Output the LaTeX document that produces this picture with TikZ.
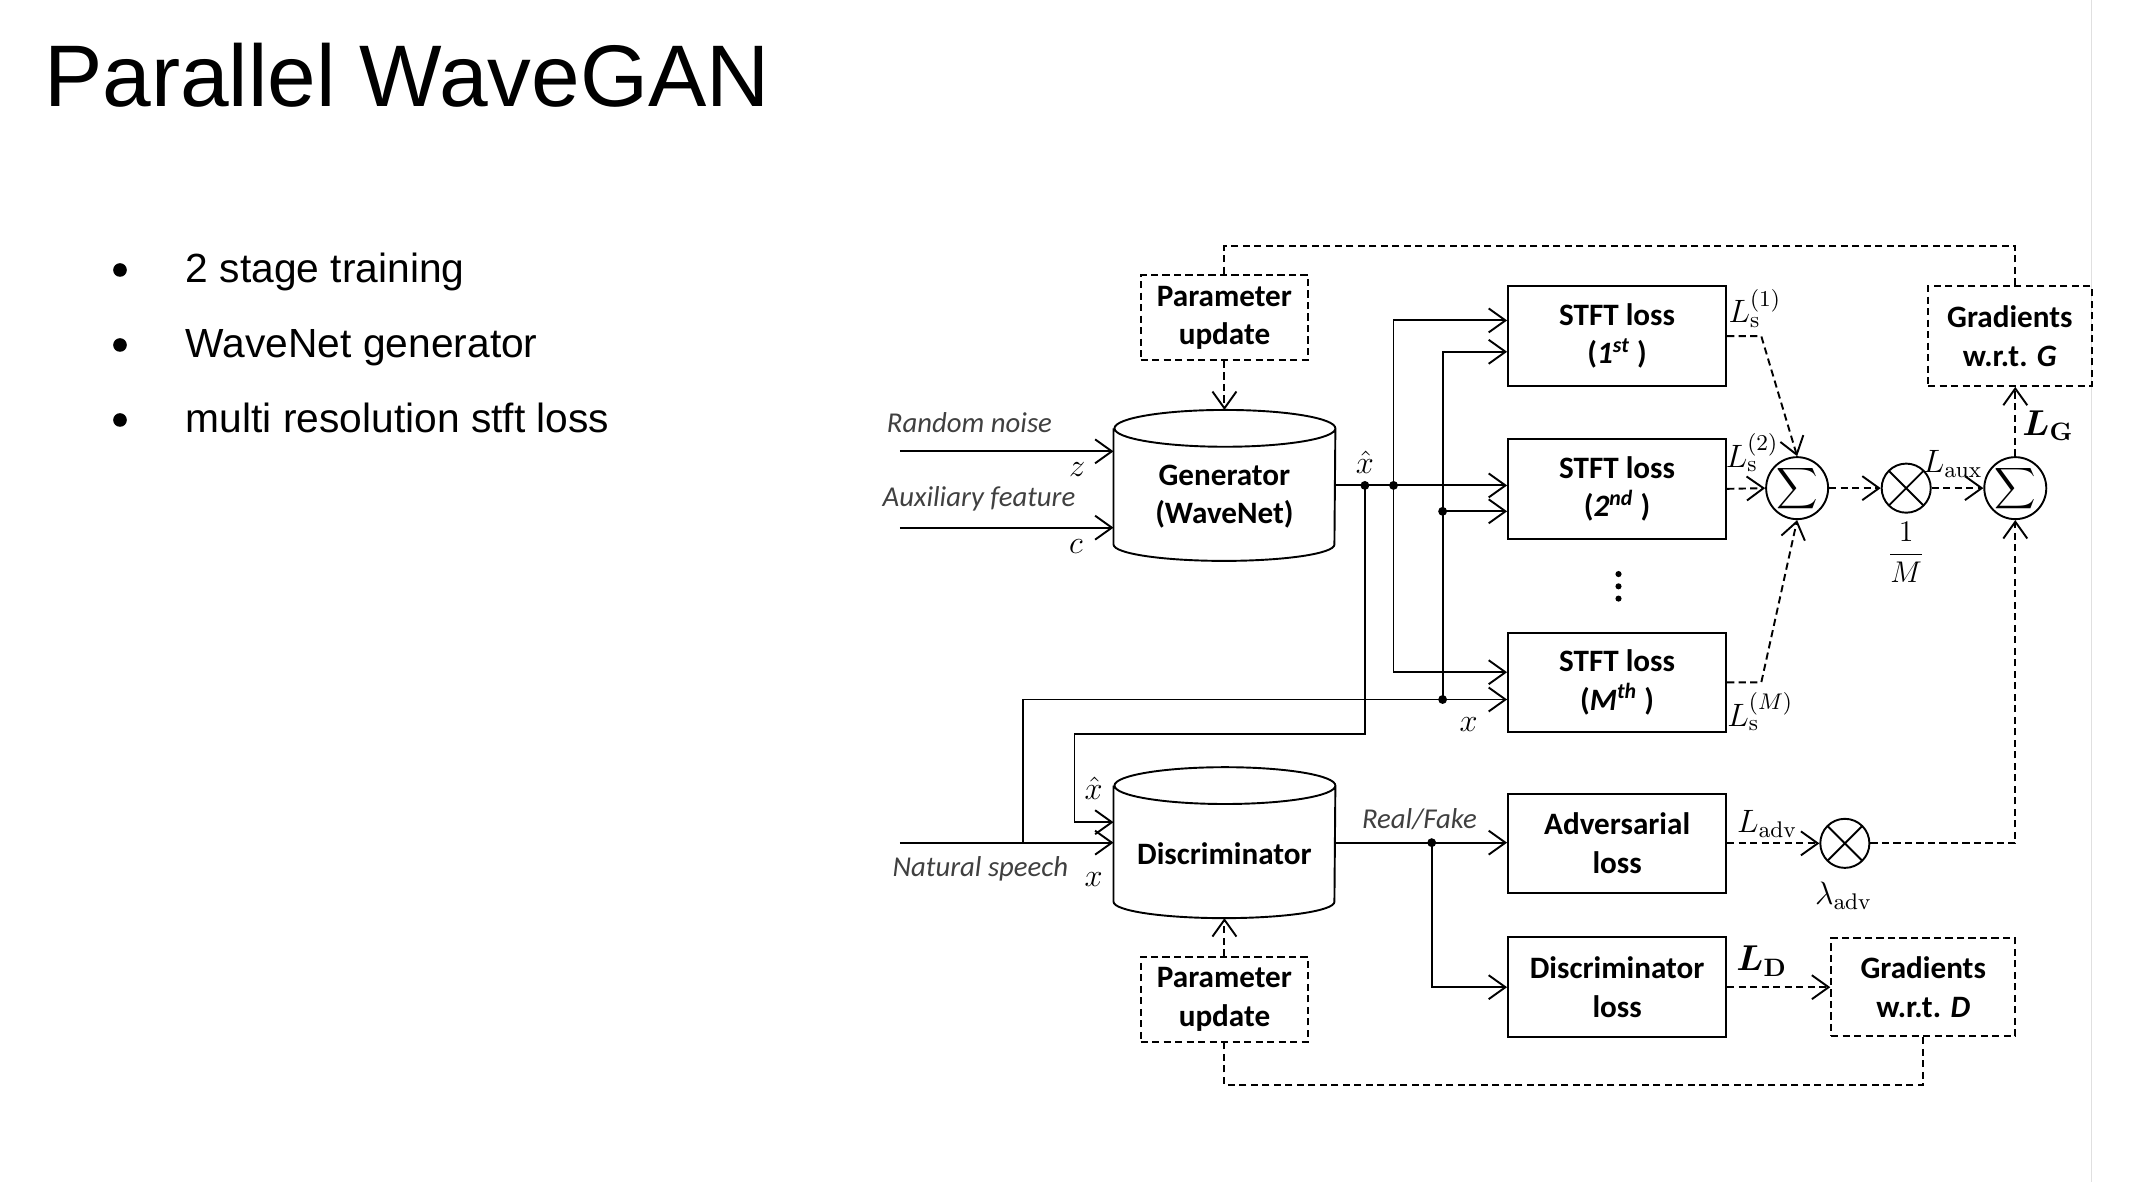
\RequirePackage{fix-cm}
\documentclass[tikz,border=0pt]{standalone}
\usepackage[no-math]{fontspec}
\usepackage{amsmath}
\setmainfont{Carlito}
\newfontfamily\slidefont{Liberation Sans}
\usetikzlibrary{arrows.meta}

\tikzset{
  >={Straight Barb[length=7pt,width=10pt]},
  wire/.style={line width=0.8pt},
  dwire/.style={wire, dash pattern=on 3pt off 1.8pt},
  lossbox/.style={draw, line width=0.8pt, minimum width=32mm, minimum height=14.6mm,
    align=center, inner sep=0pt, font=\bfseries\fontsize{13}{16}\selectfont},
  updbox/.style={lossbox, dash pattern=on 3pt off 1.8pt, minimum width=24.6mm, minimum height=12.4mm},
  netdrum/.style={minimum width=32.4mm, minimum height=22mm, inner sep=0pt},
  drumtext/.style={align=center, inner sep=0pt, font=\bfseries\fontsize{13}{16}\selectfont},
  sumop/.style={circle, draw, line width=0.8pt, minimum size=7.8mm, inner sep=0pt,
    font=\fontsize{13}{13}\selectfont},
  mulop/.style={circle, draw, line width=0.8pt, minimum size=7.2mm, inner sep=0pt,
    path picture={\draw[line width=0.8pt]
      (path picture bounding box.north west) -- (path picture bounding box.south east)
      (path picture bounding box.north east) -- (path picture bounding box.south west);}},
  jdot/.style={circle, fill, inner sep=0pt, minimum size=1.3mm},
  tag/.style={font=\itshape\fontsize{12}{14}\selectfont, text=black!75},
  sym/.style={font=\fontsize{13.5}{16}\selectfont, inner sep=1pt},
}

% drum outline around a named node
\newcommand{\drumoutline}[1]{%
  \draw[wire] ([yshift=-2.7mm]#1.north west) -- ([yshift=2.4mm]#1.south west)
    arc[start angle=180, end angle=360, x radius=16.2mm, y radius=2.4mm]
    -- ([yshift=-2.7mm]#1.north east)
    arc[start angle=0, end angle=360, x radius=16.2mm, y radius=2.7mm];
}

\begin{document}
\begin{tikzpicture}[x=0.2mm, y=-0.2mm]
    \useasboundingbox (0,0) rectangle (1568,867);

    % === SLIDE TEXT ===
    \node[anchor=base west, inner sep=0pt, font=\slidefont\fontsize{36.5}{40}\selectfont] (title) at (32,78) {Parallel WaveGAN};
    \foreach \txt [count=\i] in {2 stage training, WaveNet generator, multi resolution stft loss} {
        \node[anchor=base west, inner sep=0pt, font=\slidefont\fontsize{17}{20}\selectfont] (pt\i) at (136,{152+55*\i}) {\txt};
        \fill (88,{143+55*\i}) circle (1mm);
    }
    \draw[black!12] (1534,0) -- (1534,867);

    % === BLOCKS ===
    \node[updbox] (updG) at (898,233) {Parameter\\update};
    \node[netdrum] (gen) at (898,356) {};
    \drumoutline{gen}
    \node[drumtext] (genlbl) at (898,364) {Generator\\(WaveNet)};
    \node[netdrum] (disc) at (898,618) {};
    \drumoutline{disc}
    \node[drumtext] (disclbl) at (898,626) {Discriminator};
    \node[updbox] (updD) at (898,733) {Parameter\\update};

    \node[lossbox] (stft1) at (1186,246.5) {STFT loss\\(\textit{1\textsuperscript{st}} )};
    \node[lossbox] (stft2) at (1186,358.5) {STFT loss\\(\textit{2\textsuperscript{nd}} )};
    \foreach \k in {0,1,2}
        \fill (1187,{421+9*\k}) circle (0.45mm);
    \node[lossbox] (stftM) at (1186,500.5) {STFT loss\\(\textit{M\textsuperscript{th}} )};
    \node[lossbox] (adv) at (1186,618.5) {Adversarial\\loss};
    \node[lossbox] (dloss) at (1186,724) {Discriminator\\loss};

    \node[updbox, minimum width=24mm, minimum height=14.6mm] (gradG) at (1474,246.5) {Gradients\\w.r.t. \textit{G}};
    \node[updbox, minimum width=27mm, minimum height=14.4mm] (gradD) at (1410.5,724) {Gradients\\w.r.t. \textit{D}};

    % === SUM AND PRODUCT ===
    \node[sumop] (sum1) at (1318,358) {$\displaystyle\sum$};
    \node[mulop] (mul1) at (1398,358) {};
    \node[sumop] (sum2) at (1478,358) {$\displaystyle\sum$};
    \node[mulop] (mul2) at (1353,618.5) {};

    % === JUNCTIONS ===
    \coordinate (zin) at (660,331);
    \coordinate (cin) at (660,387);
    \coordinate (nsin) at (660,618);
    \coordinate (jgen) at (1001,356);
    \coordinate (jhat) at (1022,356);
    \coordinate (jx2) at (1058,375);
    \coordinate (jxM) at (1058,513);
    \coordinate (jnat) at (750,618);
    \coordinate (jdis) at (788,538);
    \coordinate (jrf) at (1050,618);

    % === SIGNAL LINES ===
    \draw[wire,->] (zin) -- (zin -| gen.west);
    \draw[wire,->] (cin) -- (cin -| gen.west);
    \draw[wire,->] (gen.east) -- (gen.east -| stft2.west);
    \draw[wire,->] (jhat) |- ([yshift=2.3mm]stft1.west);
    \draw[wire,->] (jhat) |- ([yshift=1.5mm]stftM.west);
    \draw[wire,->] (jxM) |- ([yshift=-2.3mm]stft1.west);
    \draw[wire,->] (jx2) -- (jx2 -| stft2.west);
    \draw[wire,->] (jnat) |- ([yshift=-2.5mm]stftM.west);
    \draw[wire,->] (nsin) -- (nsin -| disc.west);
    \draw[wire,->] (jgen) |- (jdis) |- ([yshift=3mm]disc.west);
    \draw[wire,->] (disc.east) -- (disc.east -| adv.west);
    \draw[wire,->] (jrf) |- (dloss.west);
    \foreach \j in {jgen,jhat,jx2,jxM,jrf}
        \node[jdot] (dot-\j) at (\j) {};

    % === LOSS LINES ===
    \draw[dwire,->] (stft1.east) -- ++(25,0) -- (sum1.north);
    \draw[dwire,->] (stft2.east) -- (sum1.west);
    \draw[dwire,->] (stftM.east) -- ++(25,0) -- (sum1.south);
    \draw[dwire,->] (sum1) -- (mul1);
    \draw[dwire,->] (mul1) -- (sum2);
    \draw[dwire,->] (sum2) -- (sum2 |- gradG.south);
    \draw[dwire,->] (adv) -- (mul2);
    \draw[dwire,->] (mul2) -| (sum2);
    \draw[dwire,->] (dloss) -- (gradD);

    % === FEEDBACK ===
    \draw[dwire] (sum2 |- gradG.north) -- ++(0,-29) -| (updG.north);
    \draw[dwire,->] (updG.south) -- (gen.north);
    \draw[dwire,->] (updD.north) -- (disc.south);
    \draw[dwire] (gradD.south) -- ++(0,35) -| (updD.south);

    % === LABELS ===
    \node[tag] (tagz) at (711,310) {Random noise};
    \node[tag] (tagc) at (718,366) {Auxiliary feature};
    \node[tag] (tagn) at (719,637) {Natural speech};
    \node[tag] (tagrf) at (1041,601) {Real/Fake};
    \node[sym] (sz) at (790,344) {$z$};
    \node[sym] (sc) at (789,401) {$c$};
    \node[sym] (sxh) at (1001,339) {$\hat{x}$};
    \node[sym] (sx) at (1077,531) {$x$};
    \node[sym] (sxh2) at (802,578) {$\hat{x}$};
    \node[sym] (sx2) at (802,645) {$x$};
    \node[sym] (ls1) at (1287,226) {$L_{\mathrm{s}}^{(1)}$};
    \node[sym] (ls2) at (1285,332) {$L_{\mathrm{s}}^{(2)}$};
    \node[sym] (lsM) at (1291,522) {$L_{\mathrm{s}}^{(M)}$};
    \node[sym] (laux) at (1432,340) {$L_{\mathrm{aux}}$};
    \node[sym, font=\fontsize{12.5}{15}\selectfont] (invM) at (1398,405) {$\dfrac{1}{M}$};
    \node[sym, inner sep=0pt, font=\fontsize{15}{17}\selectfont] (lg) at (1502,312) {$\boldsymbol{L}_{\mathbf{G}}$};
    \node[sym] (ladv) at (1296,604) {$L_{\mathrm{adv}}$};
    \node[sym] (lamadv) at (1352,657) {$\lambda_{\mathrm{adv}}$};
    \node[sym, inner sep=0pt, font=\fontsize{15}{17}\selectfont] (ld) at (1292,705) {$\boldsymbol{L}_{\mathbf{D}}$};

\end{tikzpicture}
\end{document}
